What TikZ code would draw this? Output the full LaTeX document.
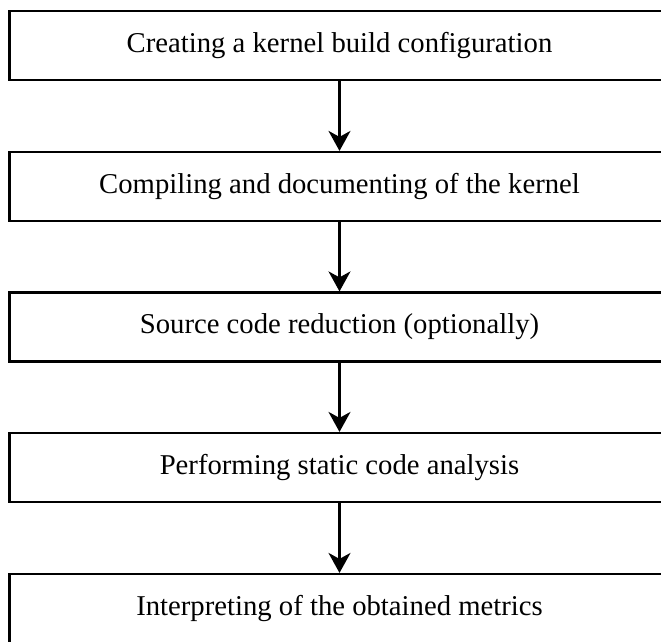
\documentclass[tikz,border=0pt]{standalone}
\usepackage{fontspec}
\setmainfont{Liberation Serif}
\usetikzlibrary{arrows.meta}
\begin{document}
\begin{tikzpicture}[x=1pt,y=-1pt,
  stagebox/.style={draw=black, line width=2.2pt, minimum width=660pt,
    minimum height=69pt, inner sep=0pt, font=\fontsize{28.7}{33}\selectfont},
  flow/.style={line width=2.2pt, -{Stealth[length=20pt,width=22pt,inset=6pt]}}]
\useasboundingbox (0,0) rectangle (661,641);
\clip (0,0) rectangle (661,641);
\node[stagebox] (s1) at (339.5,45.5)  {Creating a kernel build configuration};
\node[stagebox] (s2) at (339.5,186.5) {Compiling and documenting of the kernel};
\node[stagebox] (s3) at (339.5,327)   {Source code reduction (optionally)};
\node[stagebox] (s4) at (339.5,467.5) {Performing static code analysis};
\node[stagebox] (s5) at (339.5,608.5) {Interpreting of the obtained metrics};
\draw[flow] (s1) -- (s2);
\draw[flow] (s2) -- (s3);
\draw[flow] (s3) -- (s4);
\draw[flow] (s4) -- (s5);
\end{tikzpicture}
\end{document}
